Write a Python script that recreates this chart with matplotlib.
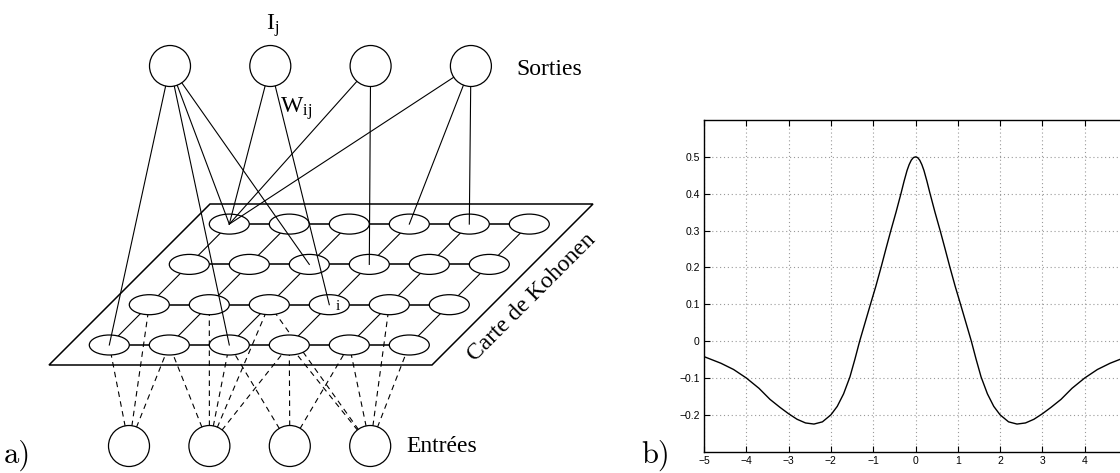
import matplotlib.pyplot as plt
from matplotlib.patches import Ellipse, Polygon

# ---- b) courbe (valeurs lues sur la figure)
x_vals = [-5.0, -4.6, -4.3, -4.0, -3.7, -3.44, -3.2, -3.0, -2.8, -2.6, -2.4, -2.2,
          -2.0, -1.85, -1.7, -1.55, -1.43, -1.32, -1.2, -1.07, -0.94, -0.81, -0.7,
          -0.59, -0.46, -0.34, -0.27, -0.2, -0.15, -0.1, -0.05, 0.0, 0.05, 0.1, 0.15,
          0.2, 0.27, 0.34, 0.46, 0.59, 0.7, 0.81, 0.94, 1.07, 1.2, 1.32, 1.43, 1.55,
          1.7, 1.85, 2.0, 2.2, 2.4, 2.6, 2.8, 3.0, 3.2, 3.44, 3.7, 4.0, 4.3, 4.6, 5.0]
y_vals = [-0.042, -0.060, -0.077, -0.100, -0.128, -0.158, -0.180, -0.197, -0.212,
          -0.222, -0.225, -0.219, -0.200, -0.177, -0.143, -0.097, -0.048, 0.0,
          0.047, 0.098, 0.148, 0.202, 0.250, 0.297, 0.350, 0.402, 0.434, 0.463,
          0.479, 0.491, 0.498, 0.500, 0.498, 0.491, 0.479, 0.463, 0.434, 0.402,
          0.350, 0.297, 0.250, 0.202, 0.148, 0.098, 0.047, 0.0, -0.048, -0.097,
          -0.143, -0.177, -0.200, -0.219, -0.225, -0.222, -0.212, -0.197, -0.180,
          -0.158, -0.128, -0.100, -0.077, -0.060, -0.042]
x_ticks = [-5, -4, -3, -2, -1, 0, 1, 2, 3, 4, 5]
# le libelle de 5 tombe hors de l'image dans l'original
x_tick_labels = ['\u22125', '\u22124', '\u22123', '\u22122', '\u22121', '0', '1', '2', '3', '4', '']
y_ticks = [-0.2, -0.1, 0.0, 0.1, 0.2, 0.3, 0.4, 0.5]
y_tick_labels = ['\u22120.2', '\u22120.1', '0', '0.1', '0.2', '0.3', '0.4', '0.5']

# ---- a) reseau de Kohonen : liaisons (ligne, colonne) de la carte
out_links = [[(0, 0), (0, 2), (3, 0), (2, 2)],
             [(3, 0), (1, 3)],
             [(3, 0), (2, 3)],
             [(3, 0), (3, 3), (3, 4)]]
in_links = [[(0, 0), (1, 0), (0, 1)],
            [(0, 1), (1, 1), (0, 2), (1, 2), (0, 3)],
            [(0, 2), (0, 3), (0, 4)],
            [(1, 2), (0, 3), (0, 4), (1, 4), (0, 5)]]
n_rows = 4
n_cols = 6

serif = 'Liberation Serif'
plt.rcParams['mathtext.fontset'] = 'custom'
plt.rcParams['mathtext.rm'] = serif
plt.rcParams['mathtext.it'] = serif + ':italic'


def node(r, c):
    return 109.3 + 60 * c + 40 * r, 345 - 40.3 * r


def out_pos(j):
    return 170 + 100.3 * j, 66


def in_pos(j):
    return 129 + 80.4 * j, 446


fig = plt.figure(figsize=(11.2, 4.73), dpi=100)
ax = fig.add_axes([0, 0, 1, 1])
ax.set_xlim(0, 1120)
ax.set_ylim(473, 0)
ax.axis('off')

# plan de la carte
ax.add_patch(Polygon([(49, 365), (432, 365), (593, 204), (210, 204)], closed=True,
                     fill=False, ec='black', lw=1.1, zorder=1))

# grille
for r in range(n_rows):
    for c in range(n_cols):
        x0, y0 = node(r, c)
        if c < n_cols - 1:
            x1, y1 = node(r, c + 1)
            ax.plot([x0, x1], [y0, y1], color='#333333', lw=1.4, zorder=2)
        if r < n_rows - 1:
            x1, y1 = node(r + 1, c)
            ax.plot([x0, x1], [y0, y1], color='black', lw=0.8, zorder=2)
        ax.add_patch(Ellipse((x0, y0), 40, 20, fc='white', ec='black', lw=0.9, zorder=3))

# entrees -> carte (tirets)
for j, links in enumerate(in_links):
    xi, yi = in_pos(j)
    for (r, c) in links:
        xn, yn = node(r, c)
        ax.plot([xi, xn], [yi, yn], color='black', lw=0.8, ls=(0, (5, 4)), zorder=2)
    ax.add_patch(Ellipse((xi, yi), 41, 41, fc='white', ec='black', lw=0.9, zorder=5))

# sorties <- carte
for j, links in enumerate(out_links):
    xo, yo = out_pos(j)
    for (r, c) in links:
        xn, yn = node(r, c)
        ax.plot([xo, xn], [yo, yn], color='black', lw=0.8, zorder=4)
    ax.add_patch(Ellipse((xo, yo), 41, 41, fc='white', ec='black', lw=0.9, zorder=5))

ax.text(266, 30, r'$\mathrm{I_j}$', fontsize=17, family=serif, va='baseline')
ax.text(280, 113, r'$\mathrm{W_{ij}}$', fontsize=17, family=serif, va='baseline')
ax.text(516, 75, 'Sorties', fontsize=17, family=serif, va='baseline')
ax.text(406, 452, 'Entrées', fontsize=17, family=serif, va='baseline')
ax.text(532, 297, 'Carte de Kohonen', fontsize=17, family=serif, rotation=45,
        ha='center', va='center', rotation_mode='anchor')
ax.text(338, 306, 'i', fontsize=11, family=serif, ha='center', va='center', zorder=6)
ax.text(4, 463, 'a)', fontsize=22, family='cmr10', va='baseline')
ax.text(641, 463, 'b)', fontsize=22, family='cmr10', va='baseline')

# ---- b)
bx = fig.add_axes([704 / 1120, (473 - 451.7) / 473, 423 / 1120, 331.7 / 473])
bx.plot(x_vals, y_vals, color='black', lw=1.0)
bx.set_xlim(-5, 5)
bx.set_ylim(-0.3, 0.6)
bx.set_xticks(x_ticks)
bx.set_xticklabels(x_tick_labels)
bx.set_yticks(y_ticks)
bx.set_yticklabels(y_tick_labels)
bx.grid(True, color='#999999', lw=0.8, ls=(0, (1, 2.5)))
bx.tick_params(direction='in', length=4, width=0.8, top=True, right=True,
               labelsize=7.5, pad=3)
for lab in bx.get_xticklabels() + bx.get_yticklabels():
    lab.set_family('Liberation Sans')
for s in bx.spines.values():
    s.set_linewidth(1.0)

fig.savefig('out.png', dpi=100)
